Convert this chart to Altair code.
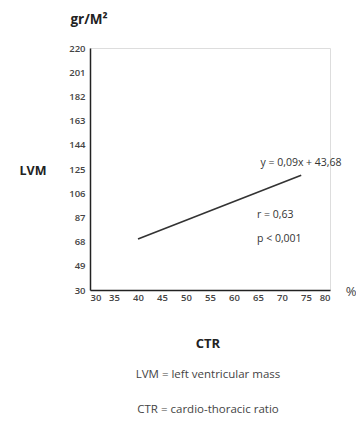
import altair as alt
import pandas as pd

# Regression line end points (CTR %, LVM gr/M2)
ctr = [40, 74]
lvm = [70, 120]

x_ticks = [30, 35, 40, 45, 50, 55, 60, 65, 70, 75, 80]
y_ticks = [30, 49, 68, 87, 106, 125, 144, 163, 182, 201, 220]

eq_text = "y = 0,09x + 43,68"
r_text = "r = 0,63"
p_text = "p < 0,001"

df = pd.DataFrame({"ctr": ctr, "lvm": lvm})

W, H = 240, 242
FONT = "Open Sans"

x_enc = alt.X("ctr:Q", scale=alt.Scale(domain=[30, 80], nice=False, zero=False),
              axis=alt.Axis(values=x_ticks, title=None, grid=False, ticks=False,
                            domainColor="#222", domainWidth=1.5, labelFont=FONT,
                            labelFontSize=9.5, labelColor="#444", labelPadding=2,
                            labelFontWeight=600))
y_enc = alt.Y("lvm:Q", scale=alt.Scale(domain=[30, 220], nice=False, zero=False),
              axis=alt.Axis(values=y_ticks, title=None, grid=False, ticks=False,
                            domainColor="#222", domainWidth=1.5, labelFont=FONT,
                            labelFontSize=9.5, labelColor="#444", labelPadding=5,
                            labelFontWeight=600))

line = alt.Chart(df).mark_line(color="#333", strokeWidth=1.6).encode(x=x_enc, y=y_enc)


def txt(text, x, y, size=8, weight="normal", align="center", color="#333"):
    return alt.Chart(pd.DataFrame({"t": [text]})).mark_text(
        font=FONT, fontSize=size, fontWeight=weight, align=align,
        baseline="middle", color=color
    ).encode(text="t:N", x=alt.value(x), y=alt.value(y))


texts = [
    txt(eq_text, 211, 115, size=10.5, weight=500),
    txt(r_text, 167, 167, size=10.5, weight=500, align="left"),
    txt(p_text, 167, 191, size=10.5, weight=500, align="left"),
    txt("gr/M²", -1, -28, size=13.5, weight="bold", color="#222"),
    txt("LVM", -57, 123, size=12.5, weight="bold", color="#222"),
    txt("%", 261, 244, size=13, color="#444"),
    txt("CTR", 118, 296, size=13, weight="bold", color="#222"),
    txt("LVM = left ventricular mass", 118, 327, size=11.5, color="#444"),
    txt("CTR = cardio-thoracic ratio", 118, 362, size=11.5, color="#444"),
]

chart = alt.layer(line, *texts).properties(
    width=W, height=H,
    autosize=alt.AutoSizeParams(type="none"),
    padding={"left": 82, "top": 40, "right": 26, "bottom": 133},
).configure_view(stroke=None).configure(background="white")

chart.save("out.html", embed_options={"renderer": "svg", "actions": False})
